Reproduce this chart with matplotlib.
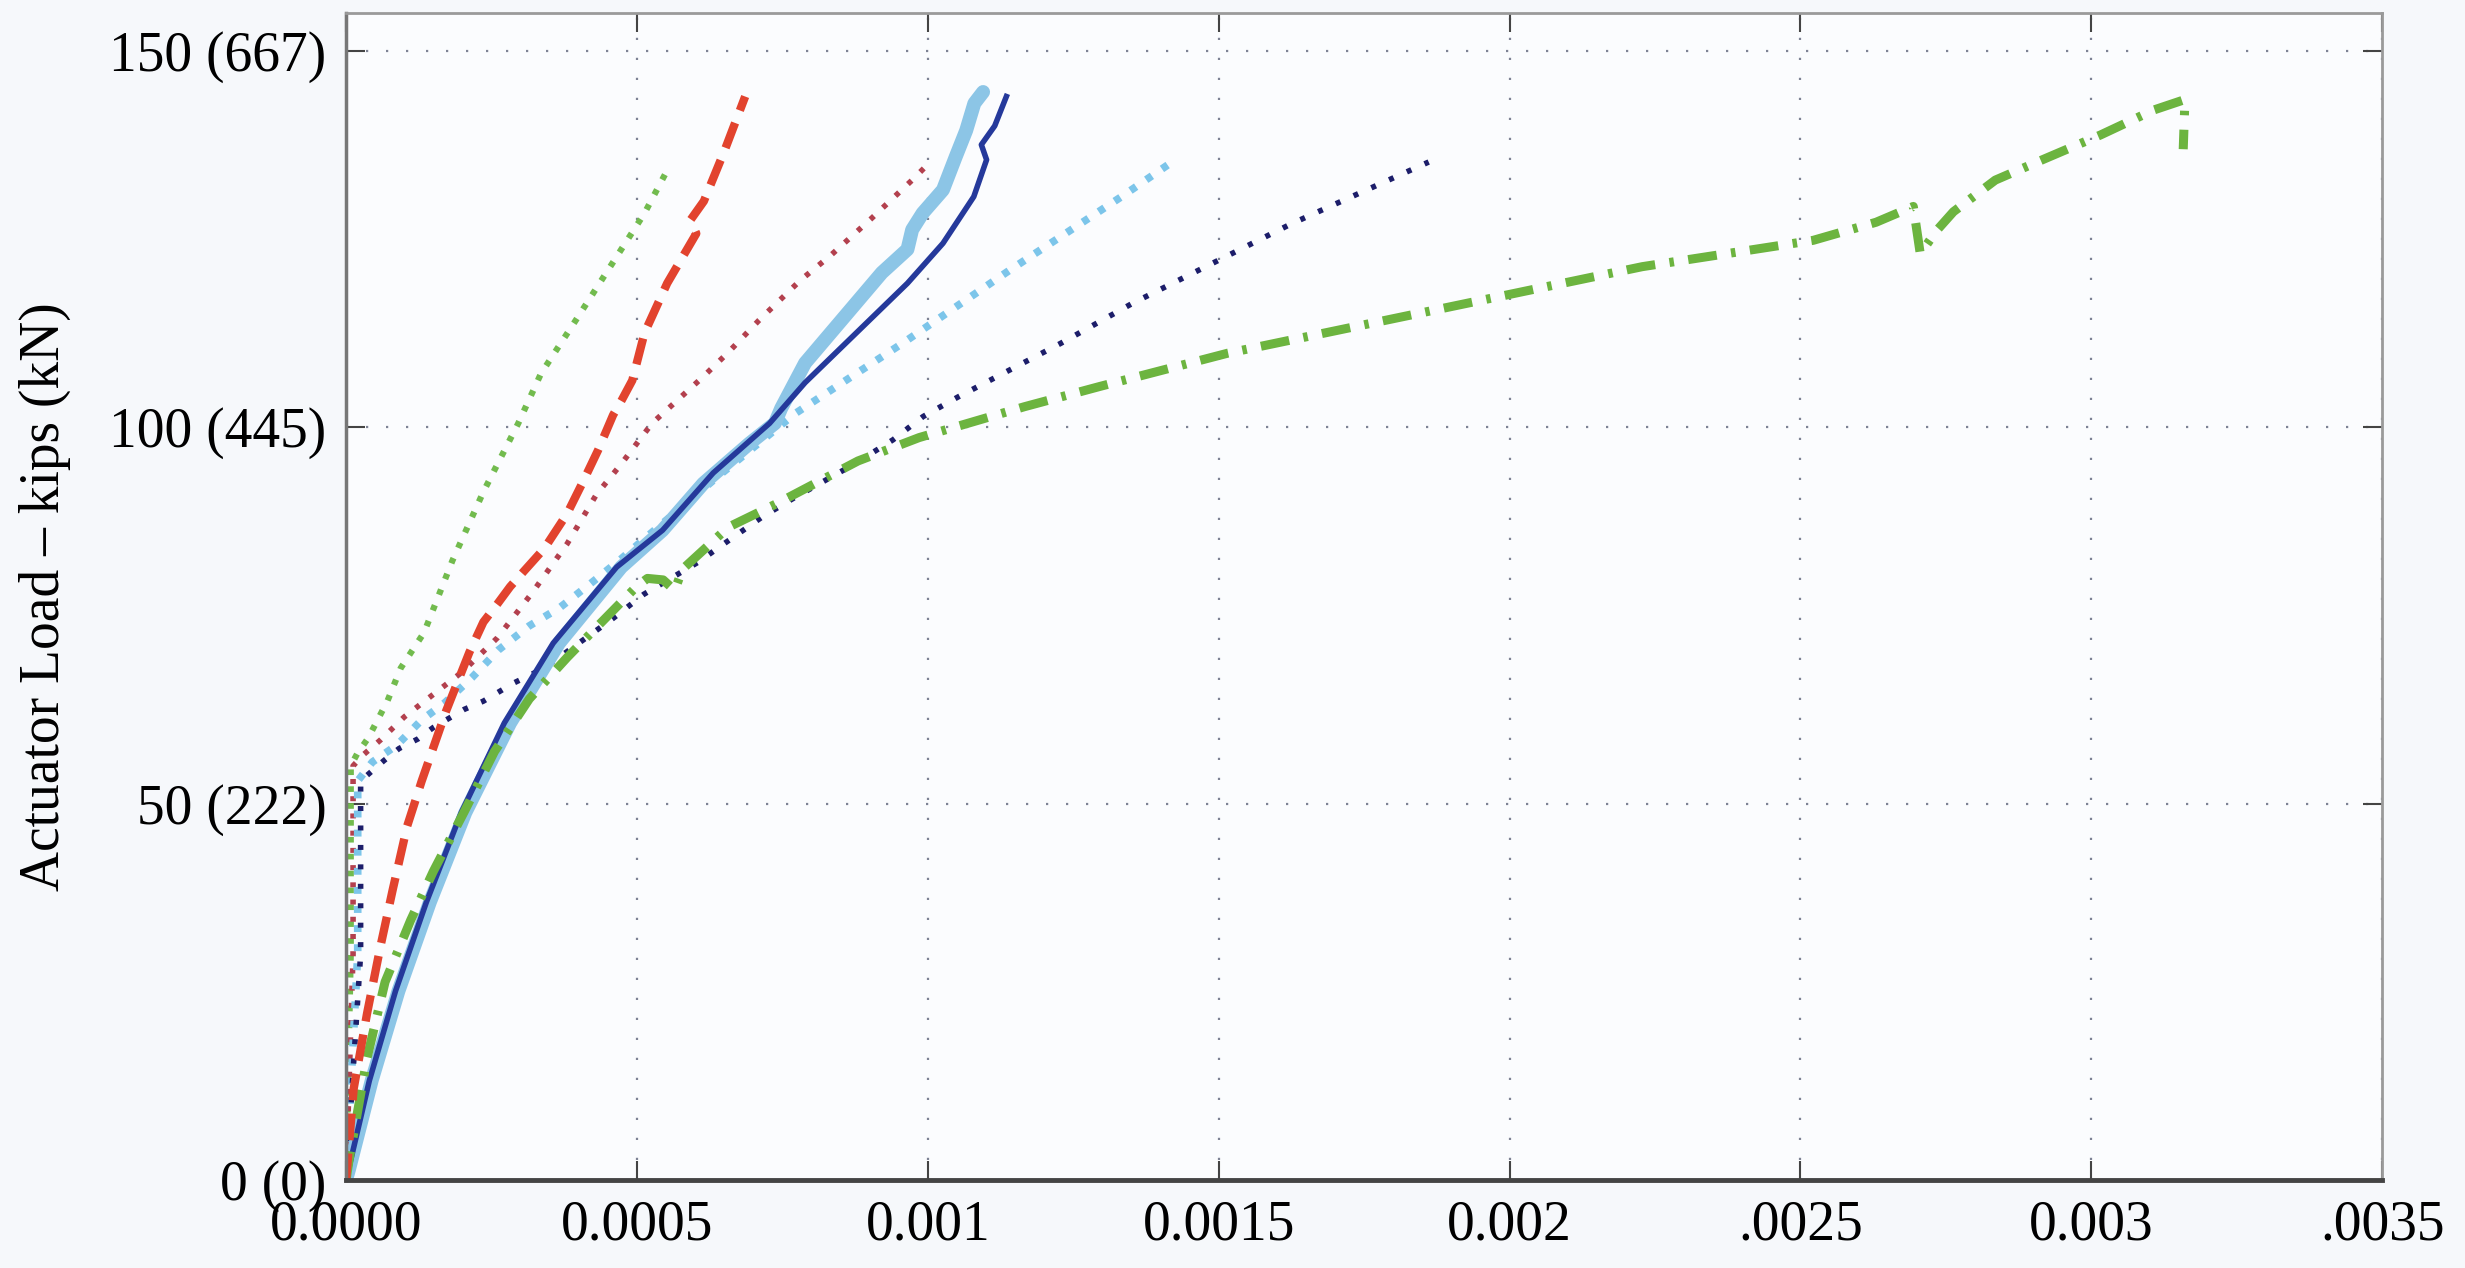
import numpy as np
import matplotlib
matplotlib.use("Agg")
import matplotlib.pyplot as plt

plt.rcParams['font.family'] = ['Liberation Serif', 'DejaVu Serif']

# strain (x) vs actuator load in kips (y)
green_dot_x = [0, 0.000008, 0.000008, 0.000019, 0.000038, 0.000071, 0.000094, 0.000134, 0.000183,
               0.000236, 0.000296, 0.000335, 0.000395, 0.000454, 0.000513, 0.000552]
green_dot_y = [0, 30, 55, 56.6, 58.7, 63.6, 68.0, 72.7, 82.3, 91.4, 100.5, 107.1, 114.2, 121.3, 128.4, 134.1]

red_dash_x = [0, 0.000013, 0.000036, 0.000059, 0.00008, 0.000105, 0.00013, 0.000172, 0.000212, 0.000236,
              0.00026, 0.000282, 0.000305, 0.000341, 0.00038, 0.000407, 0.000433, 0.000459, 0.000474,
              0.000492, 0.000513, 0.000552, 0.000602, 0.000592, 0.000615, 0.000651, 0.000686]
red_dash_y = [0, 12.1, 22.1, 31.0, 38.5, 47.0, 53.0, 62.3, 70.1, 74.1, 76.5, 78.8, 80.8, 83.9, 88.5, 92.7,
              96.9, 101.6, 103.6, 106.2, 112.5, 119.1, 125.7, 127.5, 130.0, 136.8, 143.9]

red_dot_x = [0, 0.000012, 0.000012, 0.00003, 0.00006, 0.0001, 0.00015, 0.0002, 0.00026, 0.00032, 0.00038,
             0.00043, 0.000474, 0.000526, 0.00057, 0.000614, 0.000658, 0.00071, 0.000781, 0.000833,
             0.000903, 0.000973, 0.001004]
red_dot_y = [0, 30, 55, 56.5, 58.5, 61.5, 64.5, 67.5, 72.0, 78.0, 84.5, 91.0, 95.2, 100.5, 103.6, 106.7,
             110.0, 114.2, 119.5, 122.8, 127.7, 132.8, 135.2]

lblue_x = [0, 0.000005, 0.000044, 0.00009, 0.000144, 0.000205, 0.000282, 0.000366, 0.000473, 0.000544,
           0.000614, 0.000693, 0.000737, 0.000748, 0.000789, 0.000833, 0.000877, 0.000921, 0.000965,
           0.000973, 0.000991, 0.001026, 0.001048, 0.001066, 0.00108, 0.001095]
lblue_y = [0, 1.4, 13.2, 25.1, 36.9, 48.8, 60.7, 71.3, 81.4, 86.3, 92.5, 97.8, 100.5, 102.5, 108.5, 112.5,
           116.5, 120.5, 123.6, 126.2, 128.4, 131.5, 135.9, 139.4, 143.0, 144.5]

dblue_x = [0, 0.00004, 0.000085, 0.000138, 0.000198, 0.000272, 0.000356, 0.000465, 0.000544, 0.000631,
           0.000728, 0.000789, 0.000877, 0.000965, 0.001026, 0.001079, 0.001101, 0.001092, 0.001115, 0.001135]
dblue_y = [0, 13.2, 25.1, 36.9, 48.8, 60.7, 71.3, 81.4, 86.3, 93.9, 100.5, 105.9, 112.5, 119.1, 124.4,
           130.6, 135.5, 137.5, 140.0, 143.9]

lblue_dot_x = [0, 0.00002, 0.00002, 0.000045, 0.000088, 0.00013, 0.00017, 0.000216, 0.000262, 0.000315,
               0.000367, 0.00042, 0.000473, 0.000518, 0.00064, 0.000772, 0.000956, 0.00114, 0.001333, 0.001416]
lblue_dot_y = [0, 30, 53, 55.5, 57.8, 61.1, 63.4, 66.7, 70.4, 73.6, 76.0, 79.2, 82.5, 85.5, 93.5, 101.8,
               111.1, 120.8, 130.6, 135.0]

navy_dot_x = [0, 0.000025, 0.000025, 0.000065, 0.000091, 0.000124, 0.00015, 0.000203, 0.000236, 0.000288,
              0.000341, 0.000459, 0.000512, 0.000604, 0.000657, 0.000716, 0.000768, 0.000821, 0.000874,
              0.00094, 0.000992, 0.001052, 0.001228, 0.001351, 0.001625, 0.001861]
navy_dot_y = [0, 30, 53, 55.7, 57.3, 58.6, 60.1, 62.5, 63.6, 66.0, 68.0, 74.6, 77.8, 82.0, 84.9, 88.1,
              90.5, 92.8, 95.1, 98.3, 101.4, 104.0, 111.1, 116.4, 127.0, 135.2]

green_dd_x = [0, 0.000005, 0.000036, 0.000067, 0.000111, 0.00015, 0.000203, 0.000255, 0.000315, 0.00038,
              0.000433, 0.000499, 0.000518, 0.000545, 0.000565, 0.000578, 0.000657, 0.000742, 0.000801,
              0.00088, 0.000985, 0.001166, 0.001296, 0.001515, 0.001844, 0.002228, 0.002455, 0.002522,
              0.00263, 0.002694, 0.002706, 0.002733, 0.002763, 0.002835, 0.002919, 0.003016, 0.003107,
              0.003161, 0.003158]
green_dd_y = [0, 2.6, 16.2, 26.3, 34.5, 41.0, 48.9, 56.9, 63.9, 69.4, 73.6, 78.8, 79.9, 79.7, 78.3, 81.1,
              86.7, 89.9, 92.3, 95.5, 98.6, 102.7, 105.4, 109.8, 115.1, 121.3, 124.0, 124.8, 127.2, 129.3,
              123.0, 126.0, 128.6, 132.8, 135.6, 138.8, 142.1, 143.5, 136.9]

x_ticks = [0, 0.0005, 0.001, 0.0015, 0.002, 0.0025, 0.003, 0.0035]
x_labels = ['0.0000', '0.0005', '0.001', '0.0015', '0.002', '.0025', '0.003', '.0035']
y_ticks = [0, 50, 100, 150]
y_labels = ['0 (0)', '50 (222)', '100 (445)', '150 (667)']

fig = plt.figure(figsize=(24.65, 12.68), dpi=100, facecolor='#f6f8fb')
ax = fig.add_axes([0.1404, 0.0694, 0.826, 0.9204], facecolor='#fbfcfe')

# dotted gauges
ax.plot(green_dot_x, green_dot_y, color='#72bb4e', lw=4.5, linestyle=(0, (0.9, 1.8)))
ax.plot(red_dot_x, red_dot_y, color='#b3404e', lw=4, linestyle=(0, (0.9, 2.2)))
ax.plot(lblue_dot_x, lblue_dot_y, color='#7cc5ea', lw=5.5, linestyle=(0, (0.9, 1.6)))
ax.plot(navy_dot_x, navy_dot_y, color='#1c1d6a', lw=4, linestyle=(0, (0.9, 2.6)))
# solid gauges
ax.plot(lblue_x, lblue_y, color='#8cc5e6', lw=10, solid_capstyle='round')
ax.plot(dblue_x, dblue_y, color='#25399b', lw=4)
# dash-dot and dashed gauges
ax.plot(green_dd_x, green_dd_y, color='#6cb43f', lw=6.5, linestyle=(0, (3.2, 1.6, 0.5, 1.6)))
ax.plot(red_dash_x, red_dash_y, color='#e2432e', lw=6, linestyle=(0, (3.2, 1.6)))

ax.set_xlim(0, 0.0035)
ax.set_ylim(0, 155)
ax.set_xticks(x_ticks)
ax.set_xticklabels(x_labels)
ax.set_yticks(y_ticks)
ax.set_yticklabels(y_labels)
ax.grid(True, color='#7d8294', lw=1.6, linestyle=(0, (1, 8)))

ax.tick_params(direction='in', length=14, width=1.5, colors='#444444', labelcolor='black',
               labelsize=40, top=True, right=True)
ax.tick_params(axis='x', pad=14)
ax.tick_params(axis='y', pad=14)
for side in ['top', 'right']:
    ax.spines[side].set_color('#9a9a9a')
    ax.spines[side].set_linewidth(2)
ax.spines['left'].set_color('#777777')
ax.spines['left'].set_linewidth(2.5)
ax.spines['bottom'].set_color('#444444')
ax.spines['bottom'].set_linewidth(3.5)

ax.set_ylabel('Actuator Load \u2013 kips (kN)', fontsize=40)
ax.yaxis.set_label_coords(-0.135, 0.5)

fig.savefig('out.png', dpi=100, facecolor=fig.get_facecolor())
